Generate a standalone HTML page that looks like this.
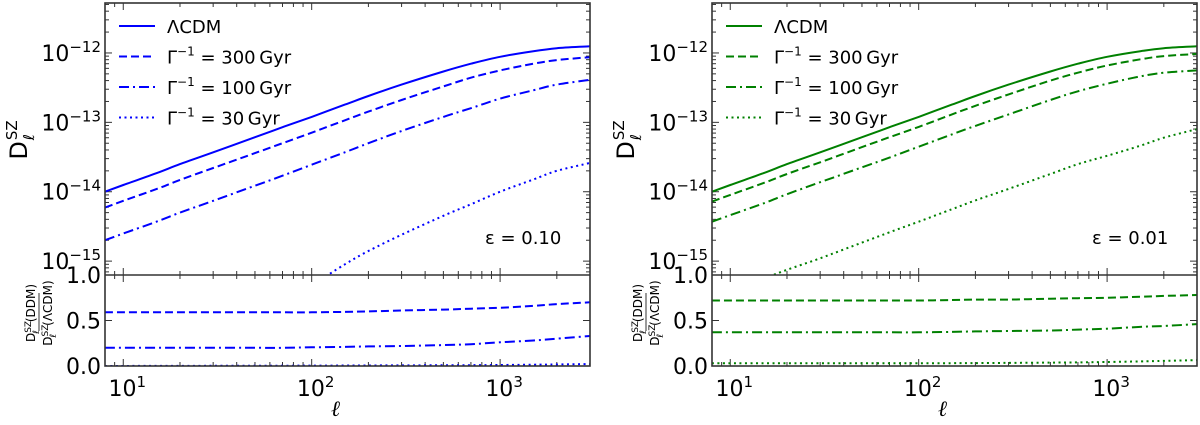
<!DOCTYPE html>
<html><head><meta charset="utf-8"><style>
body{margin:0;background:#fff;}
svg{display:block;font-family:"DejaVu Sans","Liberation Sans",sans-serif;}
</style></head><body>
<svg id="chart" width="1200" height="425" viewBox="0 0 1200 425" xmlns="http://www.w3.org/2000/svg"></svg>
<script>
const ells = [8,10,15,20,30,50,70,100,150,200,300,500,700,1000,1500,2000,3000];
const lcdm = [1.0e-14,1.25e-14,1.85e-14,2.5e-14,3.7e-14,6.1e-14,8.5e-14,1.2e-13,1.8e-13,2.4e-13,3.5e-13,5.4e-13,7.0e-13,8.8e-13,1.06e-12,1.17e-12,1.25e-12];
const leftG300 = [5.9e-15,7.4e-15,1.09e-14,1.48e-14,2.2e-14,3.6e-14,5.0e-14,7.1e-14,1.07e-13,1.43e-13,2.1e-13,3.3e-13,4.4e-13,5.6e-13,7.0e-13,7.9e-13,8.7e-13];
const leftG100 = [2.0e-15,2.5e-15,3.7e-15,5.0e-15,7.4e-15,1.22e-14,1.7e-14,2.45e-14,3.7e-14,5.0e-14,7.5e-14,1.2e-13,1.6e-13,2.2e-13,2.9e-13,3.5e-13,4.1e-13];
const leftG30 = [1e-17,1.5e-17,3e-17,5e-17,9e-17,1.6e-16,2.6e-16,4.5e-16,9e-16,1.4e-15,2.4e-15,4.5e-15,6.6e-15,1.0e-14,1.5e-14,2.0e-14,2.6e-14];
const rightG300 = [7.2e-15,9.0e-15,1.33e-14,1.8e-14,2.66e-14,4.4e-14,6.1e-14,8.6e-14,1.3e-13,1.73e-13,2.53e-13,4.0e-13,5.2e-13,6.6e-13,8.1e-13,9.0e-13,9.7e-13];
const rightG100 = [3.7e-15,4.6e-15,6.8e-15,9.2e-15,1.37e-14,2.25e-14,3.1e-14,4.45e-14,6.7e-14,8.9e-14,1.3e-13,2.1e-13,2.8e-13,3.6e-13,4.6e-13,5.2e-13,5.6e-13];
const rightG30 = [3e-16,3.8e-16,5.6e-16,7.5e-16,1.1e-15,1.85e-15,2.6e-15,3.7e-15,5.6e-15,7.5e-15,1.1e-14,1.8e-14,2.5e-14,3.3e-14,4.6e-14,6.0e-14,8.0e-14];
const leftR300 = [0.59,0.59,0.59,0.59,0.59,0.59,0.59,0.59,0.595,0.60,0.61,0.62,0.63,0.64,0.66,0.68,0.70];
const leftR100 = [0.20,0.20,0.20,0.20,0.20,0.20,0.20,0.205,0.21,0.215,0.22,0.23,0.24,0.26,0.28,0.30,0.33];
const leftR30 = [0.0005,0.0005,0.001,0.001,0.002,0.002,0.003,0.004,0.005,0.006,0.007,0.008,0.009,0.011,0.014,0.017,0.021];
const rightR300 = [0.72,0.72,0.72,0.72,0.72,0.72,0.72,0.72,0.725,0.73,0.73,0.74,0.745,0.75,0.76,0.77,0.78];
const rightR100 = [0.37,0.37,0.37,0.37,0.37,0.37,0.37,0.37,0.375,0.38,0.385,0.39,0.40,0.41,0.43,0.44,0.46];
const rightR30 = [0.03,0.03,0.03,0.03,0.03,0.03,0.03,0.03,0.031,0.032,0.034,0.037,0.04,0.044,0.05,0.056,0.065];
const xTicks = [1,2,3];
const yTicks = [-15,-14,-13,-12];
const rTicks = [0.0,0.5,1.0];
const legendLabels = ["ΛCDM","300","100","30"];

const NS="http://www.w3.org/2000/svg";
const svg=document.getElementById('chart');
function mk(tag,attrs,parent){const e=document.createElementNS(NS,tag);for(const k in attrs)e.setAttribute(k,attrs[k]);(parent||svg).appendChild(e);return e;}
const dashes=[null,"8,4","10,4,2,4","2,3.5"];
const styleNames=["lcdm","gamma-300gyr","gamma-100gyr","gamma-30gyr"];

function smoothPath(pts){
  let d='M'+pts[0][0].toFixed(1)+','+pts[0][1].toFixed(1);
  for(let i=0;i<pts.length-1;i++){
    const p0=pts[i-1]||pts[i],p1=pts[i],p2=pts[i+1],p3=pts[i+2]||p2;
    const c1=[p1[0]+(p2[0]-p0[0])/6,p1[1]+(p2[1]-p0[1])/6];
    const c2=[p2[0]-(p3[0]-p1[0])/6,p2[1]-(p3[1]-p1[1])/6];
    d+='C'+c1[0].toFixed(1)+','+c1[1].toFixed(1)+' '+c2[0].toFixed(1)+','+c2[1].toFixed(1)+' '+p2[0].toFixed(1)+','+p2[1].toFixed(1);
  }
  return d;
}

function panel(cfg){
  const g=mk('g',{});
  
  
  const x0=cfg.x0,x1=cfg.x1,top=3,mid=275,bot=366;
  const lx0=Math.log10(8),lx1=Math.log10(3000),ly0=-15.2,ly1=-11.28;
  const X=v=>x0+(Math.log10(v)-lx0)/(lx1-lx0)*(x1-x0);
  const Y=v=>mid-(Math.log10(v)-ly0)/(ly1-ly0)*(mid-top);
  const R=v=>bot-v*(bot-mid);
  const cp=mk('clipPath',{id:cfg.name+'-clipT'},g);mk('rect',{x:x0,y:top,width:x1-x0,height:mid-top},cp);
  const cp2=mk('clipPath',{id:cfg.name+'-clipB'},g);mk('rect',{x:x0,y:mid,width:x1-x0,height:bot-mid},cp2);
  const tk=mk('g',{stroke:'#333','stroke-width':1},g);
  for(let d=0;d<=3;d++)for(let m=1;m<10;m++){const v=m*Math.pow(10,d);if(v<8||v>3000)continue;const x=X(v);const L=m==1?7:4;
    mk('line',{x1:x,y1:top,x2:x,y2:top+L},tk);mk('line',{x1:x,y1:mid,x2:x,y2:mid-L},tk);mk('line',{x1:x,y1:mid,x2:x,y2:mid+L},tk);mk('line',{x1:x,y1:bot,x2:x,y2:bot-L},tk);}
  for(let d=-16;d<=-11;d++)for(let m=1;m<10;m++){const lv=d+Math.log10(m);if(lv<ly0||lv>ly1)continue;const y=Y(Math.pow(10,lv));const L=m==1?7:4;
    mk('line',{x1:x0,y1:y,x2:x0+L,y2:y},tk);mk('line',{x1:x1,y1:y,x2:x1-L,y2:y},tk);}
  rTicks.forEach(v=>{const y=R(v);mk('line',{x1:x0,y1:y,x2:x0+7,y2:y},tk);mk('line',{x1:x1,y1:y,x2:x1-7,y2:y},tk);});
  xTicks.forEach(p=>{const t=mk('text',{x:X(Math.pow(10,p))+4,y:396,'text-anchor':'middle','font-size':22},g);
    
    t.innerHTML='10<tspan dy="-9" font-size="15">'+p+'</tspan>';});
  yTicks.forEach(p=>{const t=mk('text',{x:x0-4,y:Y(Math.pow(10,p))+8,'text-anchor':'end','font-size':22},g);
    
    t.innerHTML='10<tspan dy="-9" font-size="15">−'+(-p)+'</tspan>';});
  rTicks.forEach(v=>{const t=mk('text',{x:x0-4,y:R(v)+8,'text-anchor':'end','font-size':22},g);
    t.textContent=v.toFixed(1);});
  const xl=mk('text',{x:(x0+x1)/2-12,y:416,'text-anchor':'middle','font-size':22,'font-style':'italic','font-family':'Liberation Serif,serif'},g);
  xl.textContent='ℓ';
  const yl=mk('text',{transform:'translate('+(x0-78)+',140) rotate(-90)','text-anchor':'middle','font-size':24},g);
  
  yl.innerHTML='D<tspan dx="1" dy="-10" font-size="15">SZ</tspan><tspan dx="-20" dy="17" font-size="15" font-style="italic">ℓ</tspan>';
  const yl2=mk('text',{transform:'translate('+(x0-70)+',313) rotate(-90)','text-anchor':'middle','font-size':12},g);
  
  yl2.innerHTML='D<tspan dy="-4" font-size="9">SZ</tspan><tspan dx="-13" dy="8" font-size="9" font-style="italic">ℓ</tspan><tspan dx="8" dy="-4">(DDM)</tspan>';
  mk('line',{x1:x0-66,y1:331,x2:x0-66,y2:293,stroke:'#000','stroke-width':0.8},g);
  const yl3=mk('text',{transform:'translate('+(x0-53)+',313) rotate(-90)','text-anchor':'middle','font-size':12},g);
  
  yl3.innerHTML='D<tspan dy="-4" font-size="9">SZ</tspan><tspan dx="-13" dy="8" font-size="9" font-style="italic">ℓ</tspan><tspan dx="8" dy="-4">(ΛCDM)</tspan>';
  const tops=[lcdm,cfg.g300,cfg.g100,cfg.g30];
  tops.forEach((arr,i)=>{const d=smoothPath(arr.map((v,j)=>[X(ells[j]),Y(v)]));
    const p=mk('path',{d:d,fill:'none',stroke:cfg.color,'stroke-width':2,'clip-path':'url(#'+cfg.name+'-clipT)'},g);
    if(dashes[i])p.setAttribute('stroke-dasharray',dashes[i]);
    });
  [cfg.r300,cfg.r100,cfg.r30].forEach((arr,i)=>{const d=smoothPath(arr.map((v,j)=>[X(ells[j]),R(v)]));
    const p=mk('path',{d:d,fill:'none',stroke:cfg.color,'stroke-width':2,'stroke-dasharray':dashes[i+1],'clip-path':'url(#'+cfg.name+'-clipB)'},g);
    });
  mk('rect',{x:x0,y:top,width:x1-x0,height:bot-top,fill:'none',stroke:'#333','stroke-width':1.6},g);
  mk('line',{x1:x0,y1:mid,x2:x1,y2:mid,stroke:'#333','stroke-width':1.6},g);
  const lg=mk('g',{},g);
  legendLabels.forEach((lab,i)=>{const y=26+i*30.5;
    const e=mk('g',{},lg);
    const ln=mk('line',{x1:x0+14,y1:y,x2:x0+50,y2:y,stroke:cfg.color,'stroke-width':2},e);if(dashes[i])ln.setAttribute('stroke-dasharray',dashes[i]);
    const t=mk('text',{x:x0+62,y:y+7,'font-size':18},e);
    t.innerHTML=i==0?lab:'Γ<tspan dy="-8" font-size="12">−1</tspan><tspan dy="8"> = '+lab+'\u2009Gyr</tspan>';});
  const eps=mk('text',{x:x1-105,y:244,'font-size':18},g);
  eps.textContent='ε = '+cfg.eps;
}
panel({name:'left-panel',x0:105,x1:590,color:'#0000ff',g300:leftG300,g100:leftG100,g30:leftG30,r300:leftR300,r100:leftR100,r30:leftR30,eps:'0.10'});
panel({name:'right-panel',x0:712,x1:1197,color:'#008000',g300:rightG300,g100:rightG100,g30:rightG30,r300:rightR300,r100:rightR100,r30:rightR30,eps:'0.01'});
</script>
</body></html>
